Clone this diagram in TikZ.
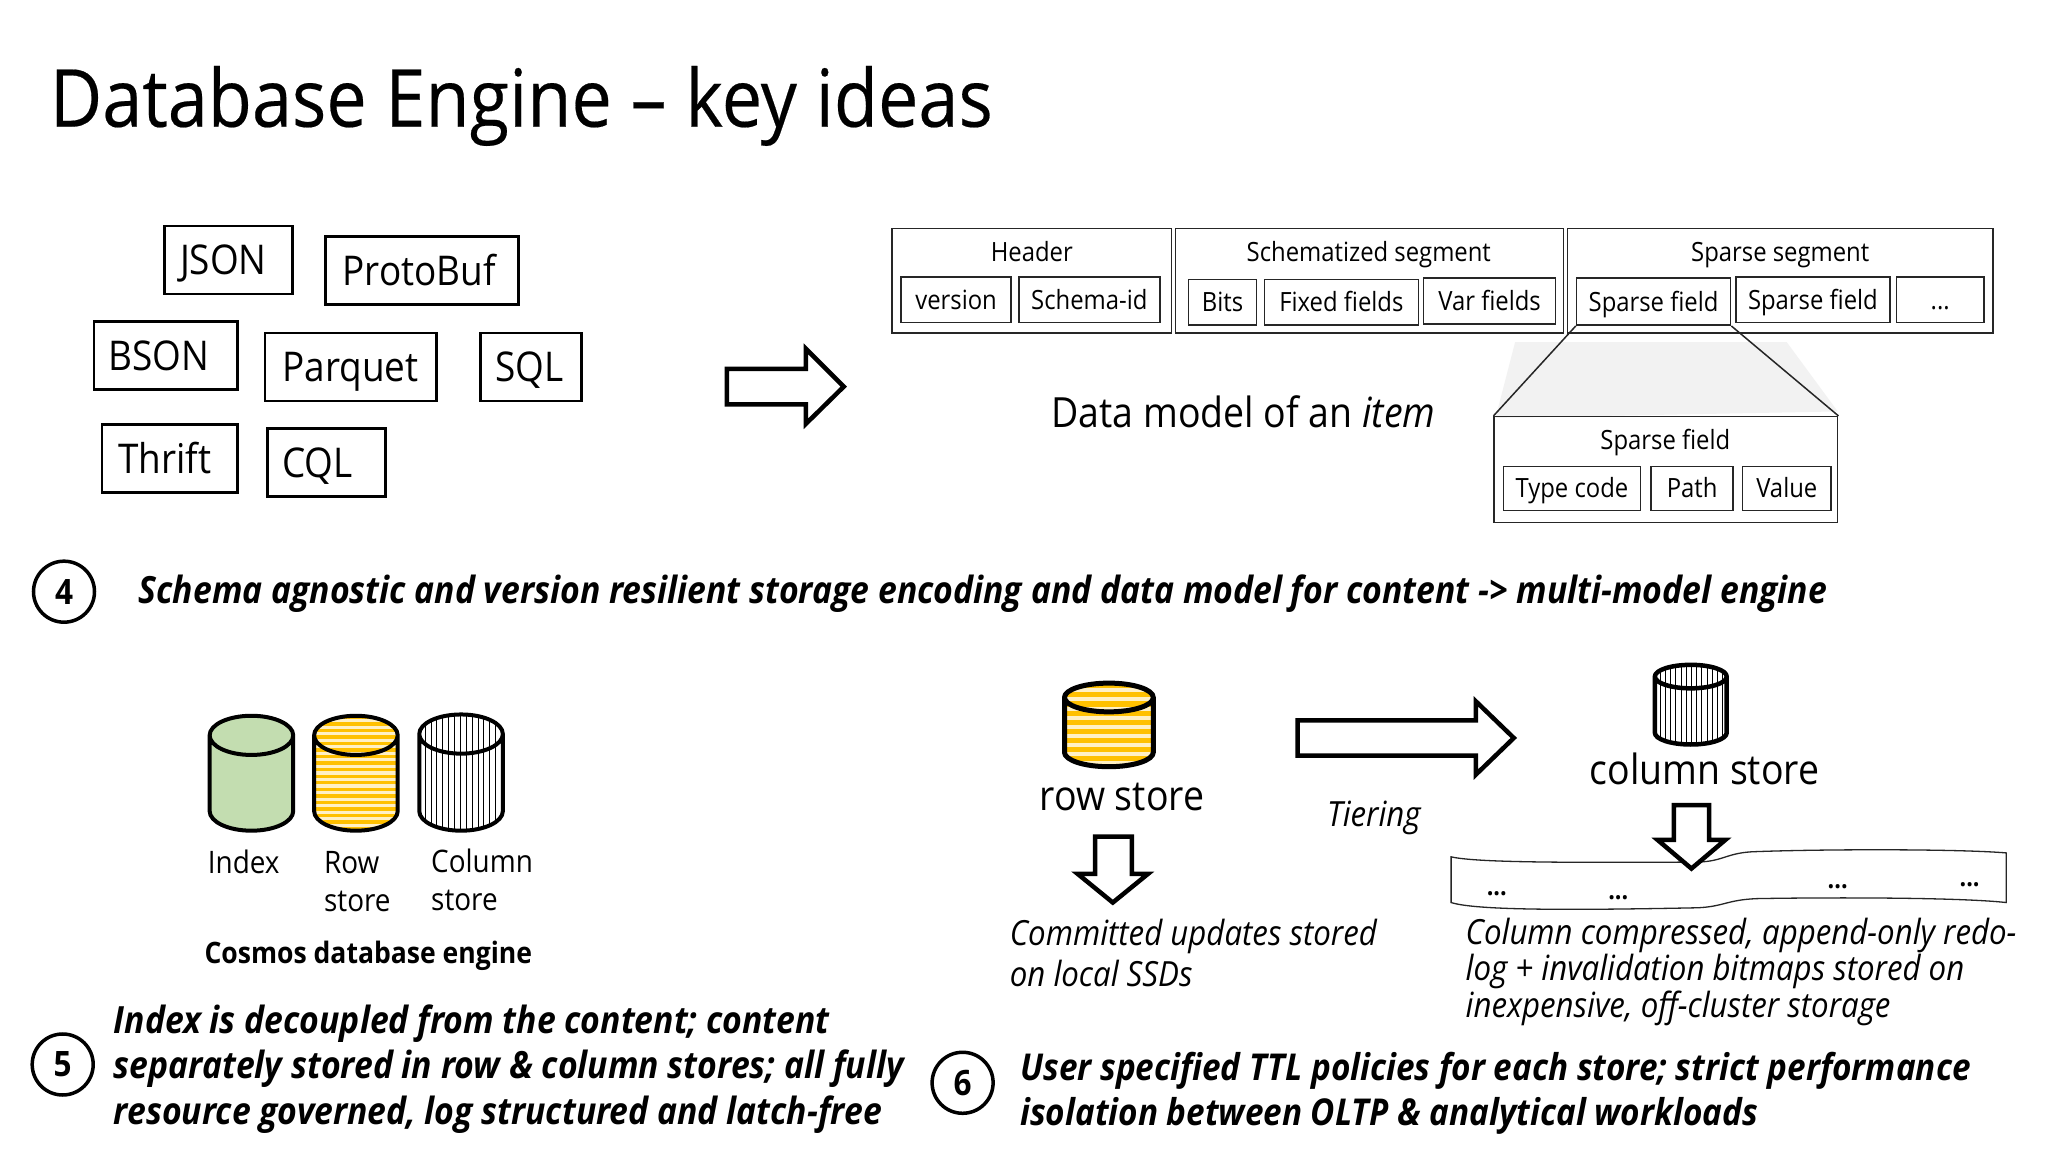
\documentclass[tikz,border=0pt]{standalone}
\usepackage{fontspec}
\setmainfont[FakeStretch=0.9]{Open Sans}
\newfontfamily\titlefont[FakeStretch=0.9,FakeBold=0.25]{Open Sans}
\definecolor{rowy}{HTML}{FFC000}
\definecolor{rowb}{HTML}{FFF0C4}
\definecolor{idxg}{HTML}{C3DDB0}
\newcommand\fs[1]{\fontsize{#1}{#1}\selectfont}
\newlength\tkunit \setlength\tkunit{2.612pt}
\newcommand\tk[1]{\kern#1\tkunit\relax}
\tikzset{
  x=1.306pt,y=-1.306pt,
  kw/.style={draw=black,line width=2.6pt,inner sep=0pt,font=\fs{41},text height=29.5pt,text depth=0pt},
  outerbox/.style={draw=black!85,line width=1.5pt,inner sep=0pt},
  cell/.style={draw=black!85,line width=1.5pt,inner sep=0pt,font=\fs{26.5},text height=19pt,text depth=0pt},
  seglabel/.style={inner sep=0pt,font=\fs{26.5},text height=19pt,text depth=0pt},
  blockarrow/.style={draw=black,line width=4.5pt,fill=white,miter limit=10},
  numcircle/.style={circle,draw=black,line width=3.5pt,minimum size=61pt,inner sep=0pt,font=\bfseries\fs{35}},
  lead/.style={inner sep=0pt,anchor=base west,font=\bfseries\itshape\fs{37.5}},
  capt/.style={inner sep=0pt,anchor=base west,font=\itshape\fs{34.7}},
  lab/.style={inner sep=0pt,anchor=base west,font=\fs{31}},
  biglab/.style={inner sep=0pt,font=\fs{41.6}},
  dotlab/.style={inner sep=0pt,font=\bfseries\fs{26}},
}
\newcommand\bx[7][kw]{\node[#1,minimum width={(#5-#3)*1.306pt},minimum height={(#6-#4)*1.306pt}] (#2) at ({(#3+#5)/2},{(#4+#6)/2}) {#7};}
% cx top bot rx ry linewidth
\newcommand\cylpath[5]{(#1-#4,#2+#5) arc[start angle=180,end angle=360,x radius=#4,y radius=#5] -- (#1+#4,#3-#5) arc[start angle=0,end angle=180,x radius=#4,y radius=#5] -- cycle}
\newcommand\cylout[6]{\draw[line width=#6,line join=round] \cylpath{#1}{#2}{#3}{#4}{#5} (#1-#4,#2+#5) arc[start angle=180,end angle=0,x radius=#4,y radius=#5];}
\begin{document}
\begin{tikzpicture}
\useasboundingbox[fill=white] (0,0) rectangle (1568,882);
\node[inner sep=0pt,anchor=base west,font=\titlefont\fs{80}] (title) at (38,97) {Database Engine – key ideas};
% format boxes
\bx{json}{126}{173}{224}{225}{JSON\tk{4}}
\bx{proto}{249}{181}{397}{233}{ProtoBuf\tk{2}}
\bx{bson}{72}{246}{182}{298}{BSON\tk{5.5}}
\bx{parquet}{203}{255}{334}{307}{Parquet}
\bx{sql}{368}{255}{445}{307}{SQL\tk{1}}
\bx{thrift}{78}{325}{182}{377}{Thrift\tk{4}}
\bx{cql}{205}{328}{295}{380}{CQL\tk{7}}
\draw[blockarrow] (556.5,282.5)--(617,282.5)--(617,267)--(646,296)--(617,324.5)--(617,309.5)--(556.5,309.5)--cycle;
% expansion
\fill[black!5] (1160,262)--(1368,262)--(1407,315)--(1145,320)--cycle;
% data model
\bx[outerbox]{hdr}{683}{175}{897}{255}{}
\bx[outerbox]{sch}{900}{175}{1197}{255}{}
\bx[outerbox]{spa}{1200}{175}{1526}{255}{}
\node[seglabel] (hdrl) at (790,193) {Header};
\node[seglabel] (schl) at (1048,193) {Schematized segment};
\node[seglabel] (spal) at (1363,193) {Sparse segment};
\bx[cell]{ver}{690}{212}{774}{247}{version}
\bx[cell]{sid}{780}{212}{888}{247}{Schema-id}
\bx[cell]{bits}{910}{214}{962}{249}{Bits}
\bx[cell]{fixed}{968}{214}{1086}{249}{Fixed fields}
\bx[cell]{var}{1090}{213}{1191}{248}{Var fields}
\bx[cell]{sf1}{1207}{213}{1325}{249}{Sparse field}
\bx[cell]{sf2}{1329}{212}{1447}{247}{Sparse field}
\bx[cell]{more}{1452}{212}{1519}{247}{...}
\bx[outerbox]{detail}{1144}{319}{1407}{400}{}
\node[seglabel] (detl) at (1275,337) {Sparse field};
\bx[cell]{tc}{1151}{357}{1256}{391}{Type code}
\bx[cell]{path}{1264}{357}{1327}{391}{Path}
\bx[cell]{val}{1334}{357}{1402}{391}{Value}
\draw[line width=1.5pt,black!85] (sf1.south west)--(detail.north west);
\draw[line width=1.5pt,black!85] (sf1.south east)--(detail.north east);
\node[inner sep=0pt,font=\fs{41.6}] (dm) at (952,315) {Data model of an \textit{item}};
% 4
\node[numcircle] (c4) at (49,453) {4};
\node[lead] (t4) at (106,462) {Schema agnostic and version resilient storage encoding and data model for content -> multi-model engine};
% cylinders left
\fill[idxg] \cylpath{192.5}{548}{636}{32}{15};
\cylout{192.5}{548}{636}{32}{15}{4pt}
\begin{scope}
\clip \cylpath{272.5}{548}{636}{32}{15};
\fill[rowb] (240,540) rectangle (306,640);
\foreach \yy in {548,553,...,640} \fill[rowy] (240,\yy) rectangle (306,\yy+2.6);
\end{scope}
\cylout{272.5}{548}{636}{32}{15}{4pt}
\begin{scope}
\clip \cylpath{353}{547}{636}{32}{15};
\foreach \xx in {321,325.5,...,386} \draw[line width=1pt] (\xx,540)--(\xx,640);
\end{scope}
\cylout{353}{547}{636}{32}{15}{4pt}
\node[lab] (lidx) at (159,669) {Index};
\node[lab] (lrow) at (248,669) {Row};
\node[lab] (lrow2) at (248,698) {store};
\node[lab] (lcol) at (330,668) {Column};
\node[lab] (lcol2) at (330,697) {store};
\node[inner sep=0pt,font=\bfseries\fs{29.5}] (cosmos) at (282,732) {Cosmos database engine};
% 5
\node[numcircle] (c5) at (48,815) {5};
\node[lead] (t5a) at (87,791) {Index is decoupled from the content; content};
\node[lead] (t5b) at (87,826) {separately stored in row \& column stores; all fully};
\node[lead] (t5c) at (87,861) {resource governed, log structured and latch-free};
% 6
\node[numcircle] (c6) at (737,829) {6};
\node[lead,font=\bfseries\itshape\fs{37}] (t6a) at (781,827) {User specified TTL policies for each store; strict performance};
\node[lead,font=\bfseries\itshape\fs{37}] (t6b) at (781,862) {isolation between OLTP \& analytical workloads};
% row store right
\begin{scope}
\clip \cylpath{849}{523}{587}{34}{11};
\fill[rowb] (810,515) rectangle (888,590);
\foreach \yy in {523,530,...,590} \fill[rowy] (810,\yy) rectangle (888,\yy+4);
\end{scope}
\cylout{849}{523}{587}{34}{11}{5pt}
\node[biglab] (rs) at (859,610) {row store};
\draw[blockarrow] (993.5,551.5)--(1130,551.5)--(1130,537)--(1159,565)--(1130,593)--(1130,578.5)--(993.5,578.5)--cycle;
\node[capt] (tier) at (1016,633) {Tiering};
\begin{scope}
\clip \cylpath{1294.5}{509}{570}{27.5}{9};
\foreach \xx in {1267,1271,...,1323} \draw[line width=.9pt] (\xx,505)--(\xx,575);
\end{scope}
\cylout{1294.5}{509}{570}{27.5}{9}{4.5pt}
\node[biglab] (cs) at (1305,589) {column store};
\draw[blockarrow] (838.5,640.5)--(866.5,640.5)--(866.5,669)--(879,669)--(852,691)--(825,669)--(838.5,669)--cycle;
% tape
\draw[line width=1.3pt,black!85] (1111,656) .. controls (1130,660.5) and (1200,660.5) .. (1300,660) .. controls (1320,659.5) and (1322,652.5) .. (1345,652) .. controls (1400,650) and (1500,650) .. (1536,653) -- (1536,691) .. controls (1500,687) and (1400,687) .. (1345,688) .. controls (1322,689) and (1320,694) .. (1300,695) .. controls (1200,697) and (1130,697) .. (1111,691) -- cycle;
\draw[blockarrow] (1281.5,616.5)--(1308.5,616.5)--(1308.5,643)--(1321,643)--(1295,665)--(1269,643)--(1281.5,643)--cycle;
\node[dotlab] (d1) at (1146,684) {...};
\node[dotlab] (d2) at (1239,687) {...};
\node[dotlab] (d3) at (1407,679) {...};
\node[dotlab] (d4) at (1508,677) {...};
\node[capt] (cu1) at (773,724) {Committed updates stored};
\node[capt] (cu2) at (773,755) {on local SSDs};
\node[capt] (cc1) at (1122,723) {Column compressed, append-only redo-};
\node[capt] (cc2) at (1122,751) {log + invalidation bitmaps stored on};
\node[capt] (cc3) at (1122,779) {inexpensive, off-cluster storage};
\end{tikzpicture}
\end{document}
